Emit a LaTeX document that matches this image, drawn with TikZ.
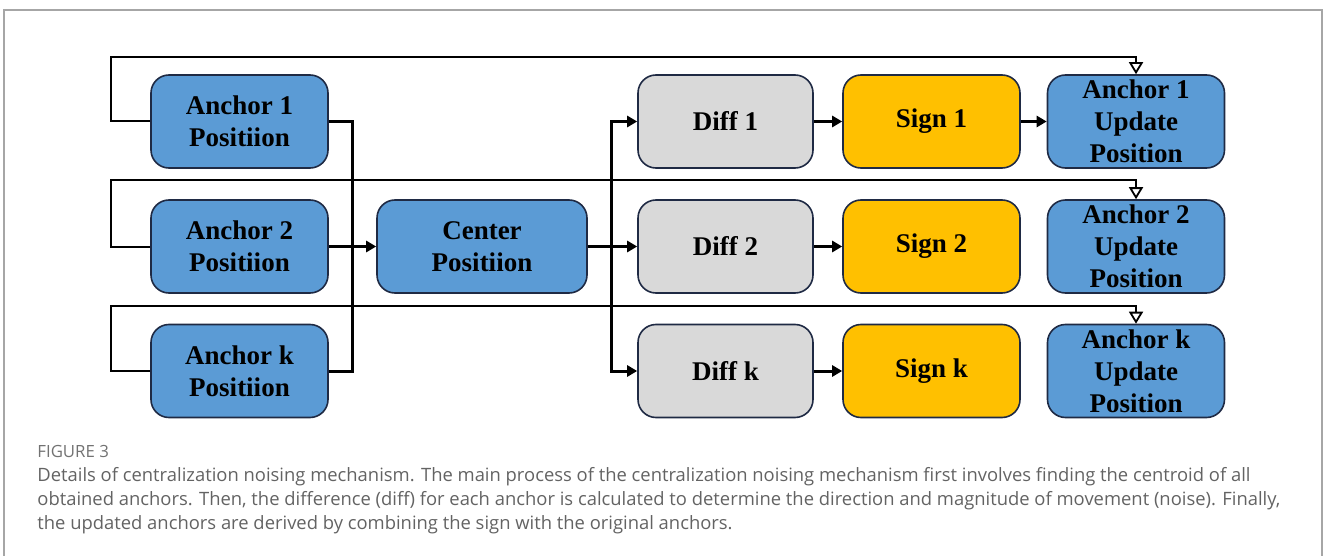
\documentclass[tikz,border=0pt]{standalone}
\usepackage{fontspec}
\usepackage{tikz}
\usetikzlibrary{arrows.meta,positioning,calc}
\usepackage{xcolor}
\newfontfamily\boxfont{Liberation Serif}
\newfontfamily\capfont{Open Sans}
\definecolor{BoxBlue}{HTML}{5B9BD5}
\definecolor{BoxGray}{HTML}{D9D9D9}
\definecolor{BoxGold}{HTML}{FFC000}
\definecolor{BoxEdge}{HTML}{1F2A44}
\definecolor{CapGray}{HTML}{636363}

\begin{document}
\begin{tikzpicture}[x=0.5pt,y=-0.5pt,
  box/.style={draw=BoxEdge,line width=0.8pt,rounded corners=9pt,align=center,
    minimum width=88.5pt,minimum height=46.5pt,inner sep=0pt,
    font=\boxfont\bfseries\fontsize{13.5}{16}\selectfont},
  bluebox/.style={box,fill=BoxBlue},
  graybox/.style={box,fill=BoxGray},
  goldbox/.style={box,fill=BoxGold},
  bus/.style={line width=1.5pt},
  feed/.style={line width=1pt},
  tip/.style={-{Triangle[length=5pt,width=5.5pt]}},
  opentip/.style={-{Triangle[open,length=6pt,width=7pt,line width=0.9pt]}},
  captext/.style={anchor=base west,inner sep=0pt,text=CapGray,font=\capfont\fontsize{9.2}{11}\selectfont}]
  \useasboundingbox (0,0) rectangle (1328,556);
  % frame
  \draw[gray!70,line width=1pt] (4,556) -- (4,10) -- (1322,10) -- (1322,556);

  % anchors
  \node[bluebox] (a1) at (239.5,121.5) {Anchor 1\\Positiion};
  \node[bluebox] (a2) at (239.5,246.5) {Anchor 2\\Positiion};
  \node[bluebox] (ak) at (239.5,371) {Anchor k\\Positiion};
  \node[bluebox,minimum width=105pt] (ctr) at (482,246.5) {Center\\Positiion};

  % diff, sign, update
  \node[graybox,minimum width=87.5pt] (d1) at (725.5,121.5) {Diff 1};
  \node[graybox,minimum width=87.5pt] (d2) at (725.5,246.5) {Diff 2};
  \node[graybox,minimum width=87.5pt] (dk) at (725.5,371) {Diff k};
  \node[goldbox] (s1) at (931.5,121.5) {Sign 1};
  \node[goldbox] (s2) at (931.5,246.5) {Sign 2};
  \node[goldbox] (sk) at (931.5,371) {Sign k};
  \node[bluebox] (u1) at (1136,121.5) {Anchor 1\\Update\\Position};
  \node[bluebox] (u2) at (1136,246.5) {Anchor 2\\Update\\Position};
  \node[bluebox] (uk) at (1136,371) {Anchor k\\Update\\Position};

  % feedback lines
  \draw[feed,opentip] (a1.west) -- ++(-39,0) |- ($(u1.north)+(0,-17)$) -- (u1.north);
  \draw[feed,opentip] (a2.west) -- ++(-39,0) |- ($(u2.north)+(0,-19)$) -- (u2.north);
  \draw[feed,opentip] (ak.west) -- ++(-39,0) |- ($(uk.north)+(0,-18)$) -- (uk.north);

  % buses
  \coordinate (j1) at ($(a2.east)!0.5!(ctr.west)$);
  \coordinate (j2) at ($(ctr.east)!0.47!(d2.west)$);
  \draw[bus] (a1.east) -| (j1) |- (ak.east);
  \draw[bus,tip] (a2.east) -- (ctr.west);
  \draw[bus,tip] (ctr.east) -- (d2.west);
  \draw[bus,tip] (j2) |- (d1.west);
  \draw[bus,tip] (j2) |- (dk.west);
  \draw[bus,tip] (d1) -- (s1);
  \draw[bus,tip] (d2) -- (s2);
  \draw[bus,tip] (dk) -- (sk);
  \draw[bus,tip] (s1) -- (u1);

  % caption
  \node[captext,text=CapGray!90,font=\capfont\fontsize{8.4}{10}\selectfont] (fig) at (37,457) {FIGURE 3};
  \node[captext] (c1) at (37,481) {Details of centralization noising mechanism. The main process of the centralization noising mechanism first involves finding the centroid of all};
  \node[captext] (c2) at (37,505) {obtained anchors. Then, the difference (diff) for each anchor is calculated to determine the direction and magnitude of movement (noise). Finally,};
  \node[captext] (c3) at (37,529) {the updated anchors are derived by combining the sign with the original anchors.};
\end{tikzpicture}
\end{document}
